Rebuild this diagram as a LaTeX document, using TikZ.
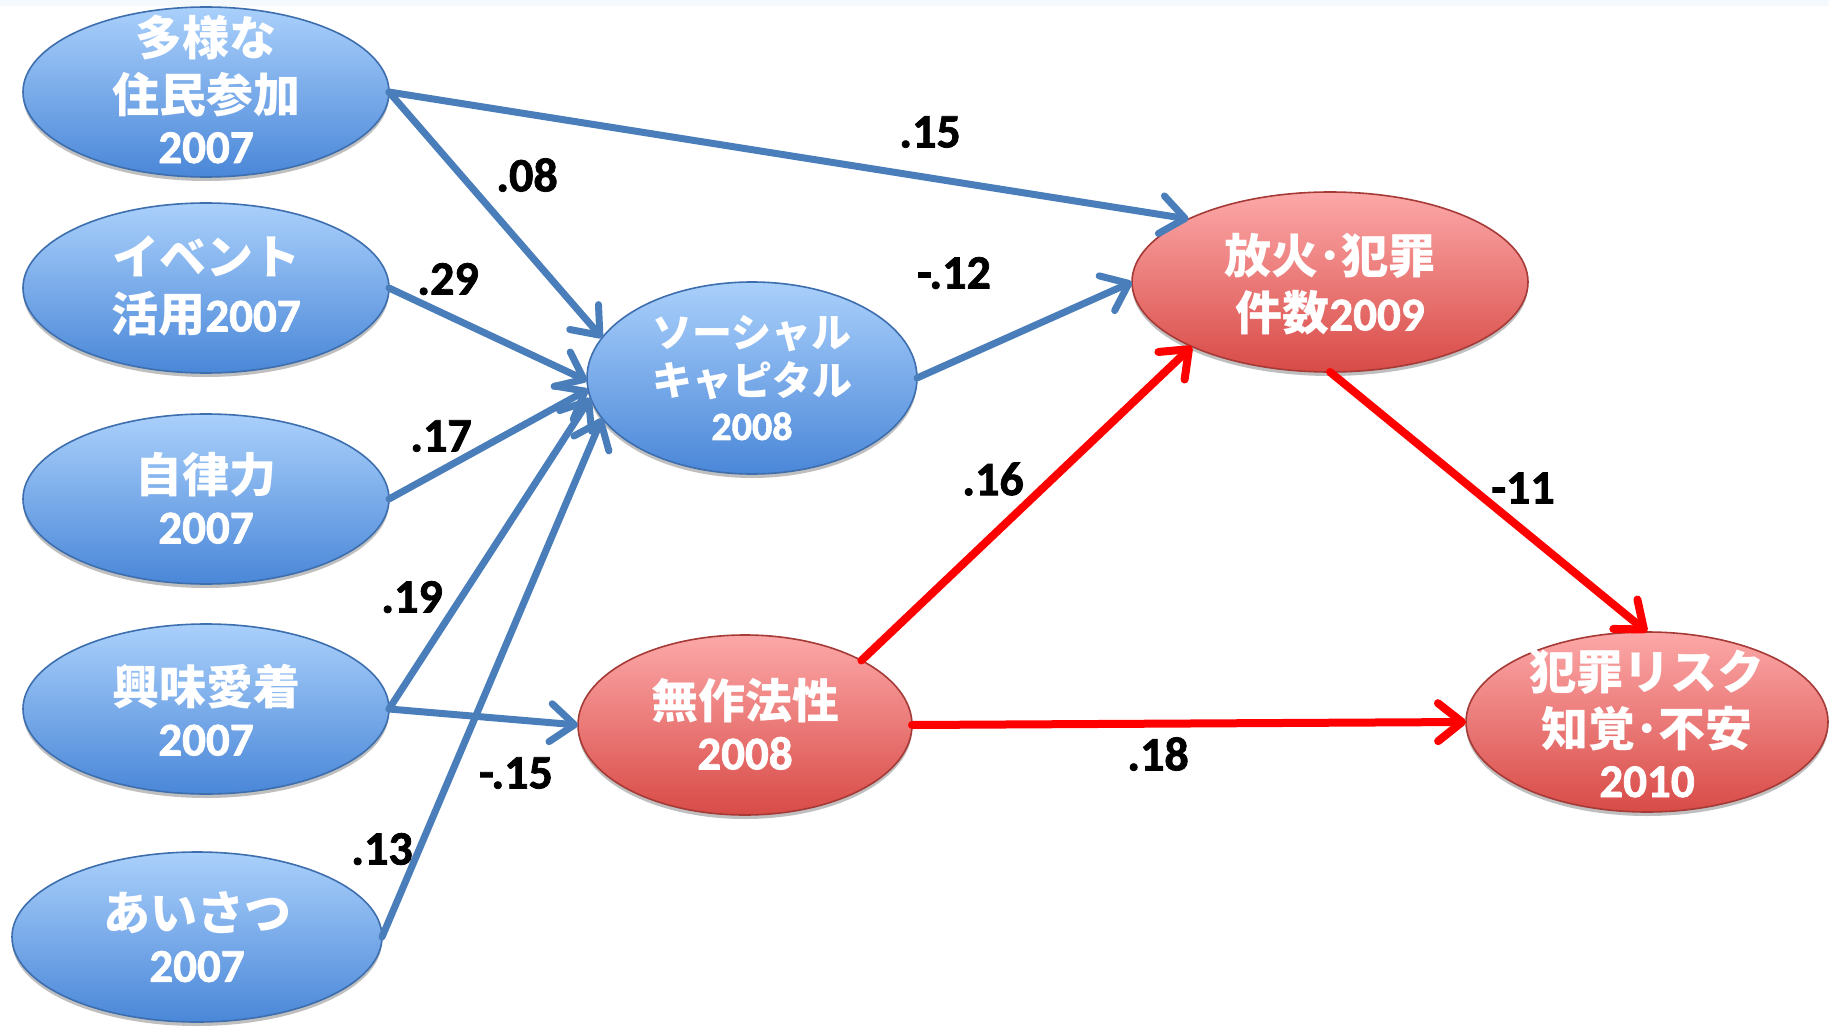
\documentclass[tikz,border=0pt]{standalone}
\usepackage{fontspec}
\setmainfont{Carlito}[BoldFont={Carlito Bold},BoldFeatures={FakeBold=1.6}]
\newfontfamily\cjk{Noto Sans CJK JP Bold}
\usetikzlibrary{shapes.geometric,arrows.meta,shadows}
\definecolor{bluetop}{HTML}{AAD0FB}
\definecolor{bluebot}{HTML}{4A87D8}
\definecolor{blueedge}{HTML}{3D6EAE}
\definecolor{redtop}{HTML}{FCA8A8}
\definecolor{redbot}{HTML}{D84B47}
\definecolor{rededge}{HTML}{A53A37}
\definecolor{bluearrow}{HTML}{4A7EBB}
\definecolor{redarrow}{HTML}{FF0000}
\definecolor{topband}{HTML}{F4F9FE}
\begin{document}
\begin{tikzpicture}[x=0.5pt,y=-0.5pt,
  oval/.style={ellipse, inner sep=0pt, outer sep=0pt,
    drop shadow={shadow xshift=0pt,shadow yshift=-2pt,opacity=0.25,fill=black}},
  blueoval/.style={oval, top color=bluetop, bottom color=bluebot, draw=blueedge, line width=0.8pt},
  redoval/.style={oval, top color=redtop, bottom color=redbot, draw=rededge, line width=0.8pt},
  lbl/.style={text=white, font=\fontsize{23.5}{28.5}\selectfont\bfseries, align=center, inner sep=0pt},
  lblsmall/.style={lbl, font=\fontsize{20}{24}\selectfont\bfseries},
  coef/.style={font=\fontsize{24}{28}\selectfont\bfseries, text=black, inner sep=0pt},
  barrow/.style={draw=bluearrow, line width=3.5pt, line cap=round,
    -{Straight Barb[length=12pt,width=19pt,line cap=round,line join=round]}},
  rarrow/.style={draw=redarrow, line width=4pt, line cap=round,
    -{Straight Barb[length=12pt,width=19pt,line cap=round,line join=round]}}
]
\fill[white] (0,0) rectangle (1829,1027);
\fill[topband] (0,0) rectangle (1829,6);
\useasboundingbox (0,0) rectangle (1829,1027);

% nodes
\node[blueoval, minimum width=183pt, minimum height=85pt] (A) at (206,92) {};
\node[blueoval, minimum width=183pt, minimum height=85pt] (B) at (206,288) {};
\node[blueoval, minimum width=183pt, minimum height=85pt] (C) at (206,499) {};
\node[blueoval, minimum width=183pt, minimum height=85pt] (D) at (206,709) {};
\node[blueoval, minimum width=185pt, minimum height=85pt] (E) at (197,937) {};
\node[blueoval, minimum width=165pt, minimum height=96pt] (SC) at (752,378) {};
\node[redoval, minimum width=198pt, minimum height=90pt] (F) at (1330,282) {};
\node[redoval, minimum width=167pt, minimum height=90pt] (G) at (745,725) {};
\node[redoval, minimum width=181pt, minimum height=90pt] (H) at (1647,722) {};

\node[lbl] (tA) at (206,89) {{\cjk 多様な}\\{\cjk 住民参加}\\[-3pt]2007};
\node[lbl] (tB) at (206,286) {{\cjk イベント}\\{\cjk 活用}2007};
\node[lbl] (tC) at (206,498) {{\cjk 自律力}\\[-3pt]2007};
\node[lbl] (tD) at (206,710) {{\cjk 興味愛着}\\[-3pt]2007};
\node[lbl] (tE) at (197,937) {{\cjk あいさつ}\\[-3pt]2007};
\node[lblsmall] (tSC) at (752,378) {{\cjk ソーシャル}\\{\cjk キャピタル}\\[-2pt]2008};
\node[lbl] (tF) at (1330,284) {{\cjk 放火･犯罪}\\{\cjk 件数}2009};
\node[lbl] (tG) at (745,724) {{\cjk 無作法性}\\[-3pt]2008};
\node[lbl] (tH) at (1647,723) {{\cjk 犯罪リスク}\\{\cjk 知覚･不安}\\[-3pt]2010};

% connectors
\draw[barrow] (A.east) -- (F.156);
\draw[barrow] (A.east) -- (SC.165);
\draw[barrow] (B.east) -- (SC.181);
\draw[barrow] (C.east) -- (SC.184);
\draw[barrow] (D.east) -- (SC.187);
\draw[barrow] (D.east) -- (G.west);
\draw[barrow] (E.east) -- (SC.195);
\draw[barrow] (SC.east) -- (F.west);
\draw[rarrow] (G.29) -- (F.205);
\draw[rarrow] (G.east) -- (H.west);
\draw[rarrow] (F.south) -- (H.north);

% coefficients
\node[coef] (c15) at (930,132) {.15};
\node[coef] (c08) at (527,175) {.08};
\node[coef] (c29) at (448,279) {.29};
\node[coef] (c17) at (441,436) {.17};
\node[coef] (c19) at (412,597) {.19};
\node[coef] (cm15) at (516,773) {-.15};
\node[coef] (c13) at (382,849) {.13};
\node[coef] (cm12) at (954,273) {-.12};
\node[coef] (c16) at (993,479) {.16};
\node[coef] (c18) at (1158,754) {.18};
\node[coef] (cm11) at (1523,488) {-11};
\end{tikzpicture}
\end{document}
